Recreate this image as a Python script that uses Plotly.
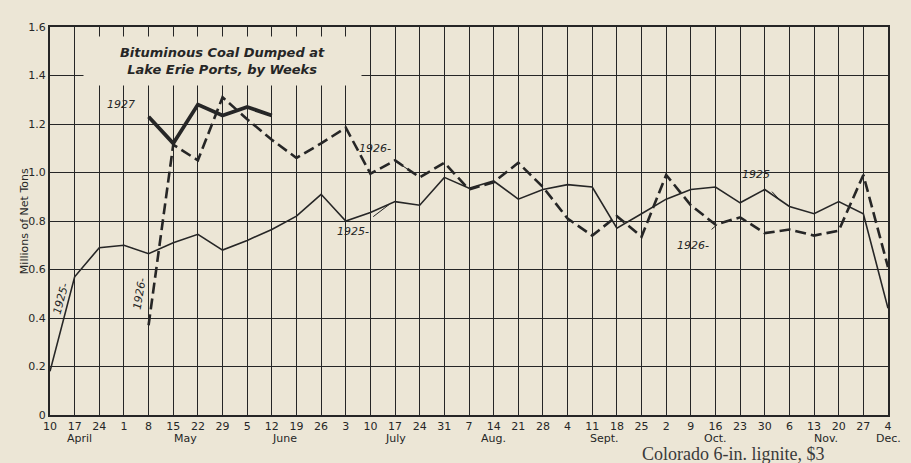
import plotly.graph_objects as go

# ---------------- data ----------------
week_days = ["10", "17", "24", "1", "8", "15", "22", "29", "5", "12", "19", "26",
             "3", "10", "17", "24", "31", "7", "14", "21", "28", "4", "11", "18",
             "25", "2", "9", "16", "23", "30", "6", "13", "20", "27", "4"]
week_idx = list(range(len(week_days)))

months = ["April", "May", "June", "July", "Aug.", "Sept.", "Oct.", "Nov.", "Dec."]
month_at = [1.2, 5.5, 9.5, 14, 18, 22.5, 27, 31.5, 34]

coal_1925 = [0.18, 0.57, 0.69, 0.70, 0.665, 0.71, 0.745, 0.68, 0.72, 0.765,
             0.82, 0.91, 0.80, 0.835, 0.88, 0.865, 0.98, 0.935, 0.965, 0.89,
             0.93, 0.95, 0.94, 0.77, 0.83, 0.89, 0.93, 0.94, 0.875, 0.93,
             0.86, 0.83, 0.88, 0.83, 0.44]
coal_1926 = [None, None, None, None,
             0.37, 1.115, 1.05, 1.31, 1.22, 1.135, 1.06, 1.12, 1.185, 0.995,
             1.05, 0.98, 1.04, 0.93, 0.96, 1.04, 0.94, 0.81, 0.74, 0.82,
             0.735, 0.99, 0.865, 0.785, 0.815, 0.75, 0.765, 0.74, 0.76, 0.99,
             0.61]
coal_1927 = [None, None, None, None,
             1.23, 1.12, 1.28, 1.235, 1.27, 1.235] + [None] * 25

y_ticks = [0, 0.2, 0.4, 0.6, 0.8, 1.0, 1.2, 1.4, 1.6]
y_tick_text = ["0", "0.2", "0.4", "0.6", "0.8", "1.0", "1.2", "1.4", "1.6"]

PAPER = "#ece6d6"
INK = "#262626"
FONT = "DejaVu Sans"


def on_line(series, t):
    i = int(t)
    f = t - i
    return series[i] + (series[i + 1] - series[i]) * f


fig = go.Figure()
fig.add_trace(go.Scatter(x=week_idx, y=coal_1925, mode="lines", name="1925",
                         line=dict(color=INK, width=1.6)))
fig.add_trace(go.Scatter(x=week_idx, y=coal_1926, mode="lines", name="1926",
                         line=dict(color=INK, width=2.6, dash="11px,5px")))
fig.add_trace(go.Scatter(x=week_idx, y=coal_1927, mode="lines", name="1927",
                         line=dict(color=INK, width=3.8)))

it = dict(family=FONT, size=11, color=INK, style="italic")

ann = []
# title box
ann.append(dict(x=7.0, y=1.46, xref="x", yref="y",
                text="Bituminous Coal Dumped at<br>Lake Erie Ports, by Weeks",
                showarrow=False, bgcolor=PAPER, width=275, height=46,
                font=dict(family=FONT, size=13, color=INK, style="italic",
                          weight="bold"),
                align="center"))

# series labels with leader lines (tips taken from the data)
labels = [
    ("1927", 2.9, 1.28, 4.0, coal_1927),
    ("1926-", 13.2, 1.10, 14.6, coal_1926),
    ("1925-", 12.3, 0.755, 13.8, coal_1925),
    ("1925", 28.65, 0.99, 29.6, coal_1925),
    ("1926-", 26.1, 0.70, 27.1, coal_1926),
]
for txt, lx, ly, tip, ser in labels:
    ann.append(dict(x=tip, y=on_line(ser, tip), xref="x", yref="y",
                    ax=lx, ay=ly, axref="x", ayref="y", text=txt,
                    showarrow=True, arrowhead=0, arrowwidth=1,
                    arrowcolor=INK, standoff=1, startstandoff=12, font=it))

# rotated labels along the opening rise
ann.append(dict(x=0.45, y=0.48, xref="x", yref="y", text="1925-",
                showarrow=False, textangle=-75, font=it))
ann.append(dict(x=3.65, y=0.50, xref="x", yref="y", text="1926-",
                showarrow=False, textangle=-80, font=it))

# month names under the day ticks
for m, mx in zip(months, month_at):
    ann.append(dict(x=mx, y=0, xref="x", yref="paper", yanchor="top",
                    yshift=-15, text=m, showarrow=False,
                    font=dict(family=FONT, size=11, color=INK)))

# y axis title
ann.append(dict(x=-0.041, y=0.5, xref="paper", yref="paper",
                text="Millions of Net Tons", textangle=-90, showarrow=False,
                font=dict(family=FONT, size=11, color=INK)))

# page text below the chart
ann.append(dict(x=0.704, y=0, xref="paper", yref="paper", xanchor="left",
                yanchor="top", yshift=-27, text="Colorado 6-in. lignite, $3",
                showarrow=False,
                font=dict(family="Liberation Serif", size=18, color="#3a3a3a")))

fig.update_layout(
    width=911, height=463,
    margin=dict(l=50, r=23, t=27, b=48),
    paper_bgcolor=PAPER, plot_bgcolor=PAPER,
    showlegend=False,
    annotations=ann,
    font=dict(family=FONT, size=11, color=INK),
)
fig.update_xaxes(range=[0, 34], tickmode="array", tickvals=week_idx,
                 ticktext=week_days, showgrid=True, gridcolor=INK,
                 gridwidth=1, zeroline=False, showline=True, linewidth=2,
                 linecolor=INK, mirror=True, ticks="",
                 tickfont=dict(family=FONT, size=11, color=INK))
fig.update_yaxes(range=[0, 1.6], tickmode="array", tickvals=y_ticks,
                 ticktext=y_tick_text, showgrid=True, gridcolor=INK,
                 gridwidth=1, zeroline=False, showline=True, linewidth=2,
                 linecolor=INK, mirror=True, ticks="",
                 tickfont=dict(family=FONT, size=11, color=INK))

fig.write_html(
    "out.html",
    config={"displayModeBar": False},
    post_script=("document.body.style.margin='0';"
                 "document.body.style.background='" + PAPER + "';"),
)
